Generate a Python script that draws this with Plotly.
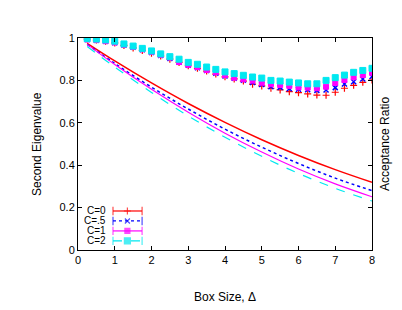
import plotly.graph_objects as go

# ---- data ----
box_line = [0.25, 1, 2, 3, 4, 5, 6, 7, 8]
eig_c0 = [0.975, 0.892, 0.788, 0.691, 0.602, 0.520, 0.446, 0.379, 0.319]
eig_c05 = [0.970, 0.880, 0.768, 0.665, 0.570, 0.485, 0.408, 0.339, 0.280]
eig_c1 = [0.970, 0.875, 0.758, 0.650, 0.551, 0.462, 0.382, 0.312, 0.251]
eig_c2 = [0.960, 0.863, 0.743, 0.632, 0.532, 0.442, 0.361, 0.291, 0.231]

box_pts = [0.25, 0.5, 0.75, 1.0, 1.25, 1.5, 1.75, 2.0, 2.25, 2.5, 2.75, 3.0,
           3.25, 3.5, 3.75, 4.0, 4.25, 4.5, 4.75, 5.0, 5.25, 5.5, 5.75, 6.0,
           6.25, 6.5, 6.75, 7.0, 7.25, 7.5, 7.75, 8.0]
acc_c0 = [0.995, 0.990, 0.985, 0.977, 0.965, 0.953, 0.941, 0.928, 0.915, 0.900,
          0.885, 0.869, 0.857, 0.844, 0.830, 0.817, 0.807, 0.797, 0.782, 0.774,
          0.763, 0.755, 0.747, 0.742, 0.736, 0.731, 0.730, 0.744, 0.763, 0.777,
          0.791, 0.802]
acc_c05 = [0.993, 0.990, 0.985, 0.978, 0.967, 0.956, 0.945, 0.932, 0.918, 0.904,
           0.886, 0.872, 0.860, 0.847, 0.834, 0.821, 0.810, 0.801, 0.790, 0.781,
           0.770, 0.767, 0.761, 0.758, 0.756, 0.753, 0.755, 0.766, 0.783, 0.794,
           0.807, 0.818]
acc_c1 = [0.993, 0.990, 0.985, 0.979, 0.968, 0.958, 0.947, 0.935, 0.921, 0.908,
          0.887, 0.874, 0.863, 0.849, 0.838, 0.825, 0.813, 0.805, 0.799, 0.789,
          0.782, 0.778, 0.774, 0.767, 0.766, 0.763, 0.770, 0.788, 0.802, 0.815,
          0.825, 0.836]
acc_c2 = [0.997, 0.995, 0.991, 0.985, 0.972, 0.962, 0.951, 0.939, 0.925, 0.912,
          0.900, 0.885, 0.876, 0.863, 0.852, 0.840, 0.832, 0.824, 0.816, 0.811,
          0.800, 0.797, 0.792, 0.788, 0.784, 0.784, 0.800, 0.813, 0.825, 0.838,
          0.847, 0.857]

labels = ["C=0", "C=.5", "C=1", "C=2"]
x_ticks = [0, 1, 2, 3, 4, 5, 6, 7, 8]
y_ticks = [0, 0.2, 0.4, 0.6, 0.8, 1]
y_tick_text = ["0", "0.2", "0.4", "0.6", "0.8", "1"]

# ---- styles ----
colors = ["#ff0000", "#0000ff", "#ff00ff", "#00e8f0"]
dashes = ["solid", "dot", "solid", "dash"]
widths = [1.5, 1.5, 1.2, 1.2]
symbols = ["cross-thin-open", "x-thin-open", "square", "square"]
msizes = [5, 5, 5, 6]
mlw = [1.2, 1.5, 1, 1]

FONT = "Liberation Sans, Arial, sans-serif"

fig = go.Figure()
eigs = [eig_c0, eig_c05, eig_c1, eig_c2]
accs = [acc_c0, acc_c05, acc_c1, acc_c2]

for i in range(4):
    fig.add_trace(go.Scatter(
        x=box_line, y=eigs[i], mode="lines", line_shape="spline",
        line=dict(color=colors[i], width=widths[i], dash=dashes[i]),
        showlegend=False, xaxis="x", yaxis="y"))
for i in range(4):
    fig.add_trace(go.Scatter(
        x=box_pts, y=accs[i], mode="markers",
        marker=dict(symbol=symbols[i], size=msizes[i], color=colors[i],
                    line=dict(color=colors[i], width=mlw[i])),
        showlegend=False, xaxis="x", yaxis="y2"))

# ---- gnuplot-style key (text left, sample right), in an overlay frame ----
key_rows = [0.184, 0.137, 0.090, 0.043]
for i in range(4):
    fig.add_trace(go.Scatter(
        x=[0.119, 0.168, 0.218], y=[key_rows[i]] * 3, mode="lines+markers",
        line=dict(color=colors[i], width=1.2, dash=dashes[i]),
        marker=dict(symbol=["line-ns-open", symbols[i], "line-ns-open"],
                    size=[6, msizes[i], 6], color=colors[i],
                    line=dict(color=colors[i], width=1.2)),
        showlegend=False, hoverinfo="skip", xaxis="x3", yaxis="y3"))
    fig.add_annotation(x=0.099, y=key_rows[i], xref="x3", yref="y3",
                       text=labels[i], showarrow=False, xanchor="right",
                       yanchor="middle", borderpad=0,
                       font=dict(family=FONT, size=10, color="black"))

axis_common = dict(showgrid=False, zeroline=False, showline=True, linecolor="black",
                   linewidth=1, ticks="inside", ticklen=4, tickcolor="black",
                   tickfont=dict(family=FONT, size=11, color="black"))

fig.update_layout(
    width=394, height=302,
    margin=dict(l=70, r=30, t=30, b=60, autoexpand=False),
    paper_bgcolor="white", plot_bgcolor="white",
    xaxis=dict(range=[0, 8], tickvals=x_ticks, mirror="ticks",
               automargin=False, **axis_common),
    yaxis=dict(range=[0, 1], tickvals=y_ticks, ticktext=y_tick_text,
               automargin=False, **axis_common),
    yaxis2=dict(range=[0, 1], tickvals=y_ticks, overlaying="y", side="right",
                showticklabels=False, automargin=False, **axis_common),
    xaxis3=dict(range=[0, 1], overlaying="x", visible=False, fixedrange=True),
    yaxis3=dict(range=[0, 1], overlaying="y", visible=False, fixedrange=True),
    showlegend=False,
)
title_font = dict(family=FONT, size=12, color="black")
fig.add_annotation(x=0.5, y=0, xref="paper", yref="paper", yshift=-47,
                   text="Box Size, Δ", showarrow=False,
                   xanchor="center", yanchor="middle", font=title_font)
fig.add_annotation(x=0, y=0.5, xref="paper", yref="paper", xshift=-41,
                   text="Second Eigenvalue", textangle=-90, showarrow=False,
                   xanchor="center", yanchor="middle", font=title_font)
fig.add_annotation(x=1, y=0.5, xref="paper", yref="paper", xshift=13,
                   text="Acceptance Ratio", textangle=-90, showarrow=False,
                   xanchor="center", yanchor="middle", font=title_font)

fig.write_html("out.html")
